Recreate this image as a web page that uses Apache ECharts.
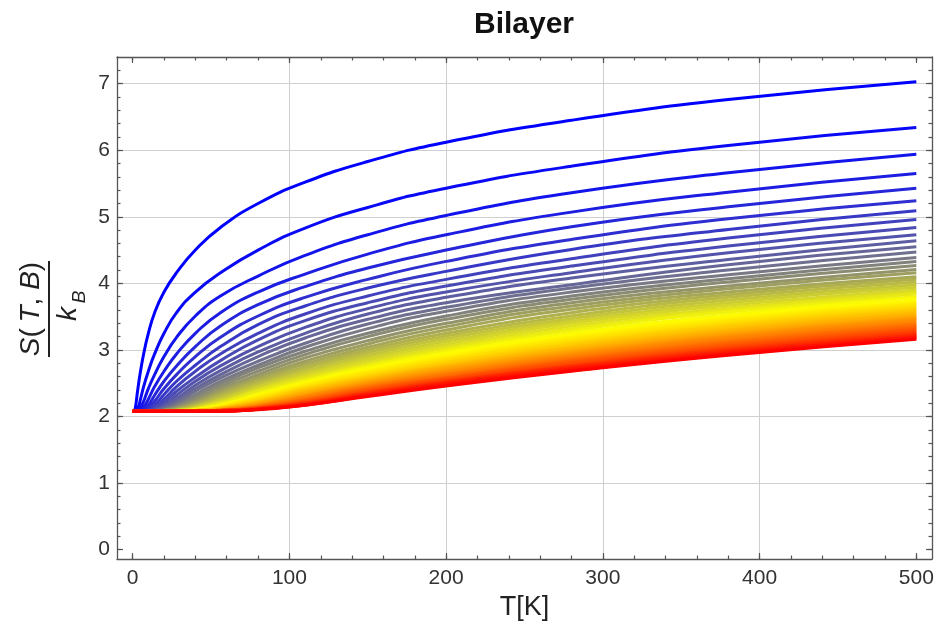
<!DOCTYPE html>
<html>
<head>
<meta charset="utf-8">
<title>Bilayer</title>
<script src="https://cdn.jsdelivr.net/npm/echarts@6/dist/echarts.min.js"></script>
<style>
  html, body { margin: 0; padding: 0; background: #fff; }
  #chart { width: 939px; height: 632px; }
</style>
</head>
<body>
<div id="chart"></div>
<script>
// temperatures (K) where every curve is sampled
var tempK = [0, 1, 1.5, 2, 3, 4, 5, 7, 10, 14, 20, 28, 40, 56, 80, 110, 150, 200, 280, 380, 500];

// S(T,B)/k_B, one row per field value, weakest field (blue) first, strongest (red) last
var entropyCurves = [
  [2.08,2.08,2.11,2.17,2.36,2.53,2.68,2.94,3.25,3.56,3.87,4.16,4.50,4.84,5.20,5.52,5.83,6.12,6.45,6.76,7.03],
  [2.08,2.08,2.08,2.08,2.11,2.17,2.26,2.45,2.68,2.94,3.25,3.56,3.87,4.16,4.50,4.83,5.14,5.43,5.76,6.07,6.34],
  [2.08,2.08,2.08,2.08,2.08,2.10,2.13,2.23,2.42,2.63,2.90,3.19,3.51,3.81,4.11,4.42,4.73,5.02,5.36,5.66,5.94],
  [2.08,2.08,2.08,2.08,2.08,2.08,2.09,2.14,2.26,2.45,2.68,2.94,3.25,3.56,3.87,4.14,4.44,4.73,5.07,5.37,5.65],
  [2.08,2.08,2.08,2.08,2.08,2.08,2.08,2.10,2.17,2.32,2.53,2.76,3.05,3.36,3.68,3.95,4.23,4.50,4.85,5.15,5.43],
  [2.08,2.08,2.08,2.08,2.08,2.08,2.08,2.09,2.13,2.23,2.42,2.63,2.90,3.19,3.51,3.79,4.06,4.33,4.66,4.97,5.24],
  [2.08,2.08,2.08,2.08,2.08,2.08,2.08,2.08,2.10,2.17,2.33,2.53,2.77,3.05,3.38,3.66,3.93,4.18,4.51,4.81,5.09],
  [2.08,2.08,2.08,2.08,2.08,2.08,2.08,2.08,2.09,2.14,2.26,2.45,2.68,2.94,3.25,3.54,3.81,4.06,4.37,4.68,4.96],
  [2.08,2.08,2.08,2.08,2.08,2.08,2.08,2.08,2.09,2.12,2.21,2.38,2.59,2.84,3.15,3.44,3.71,3.96,4.26,4.56,4.84],
  [2.08,2.08,2.08,2.08,2.08,2.08,2.08,2.08,2.08,2.10,2.17,2.32,2.53,2.76,3.05,3.34,3.62,3.87,4.16,4.46,4.73],
  [2.08,2.08,2.08,2.08,2.08,2.08,2.08,2.08,2.08,2.09,2.15,2.27,2.47,2.69,2.97,3.25,3.54,3.79,4.08,4.36,4.64],
  [2.08,2.08,2.08,2.08,2.08,2.08,2.08,2.08,2.08,2.09,2.13,2.23,2.42,2.63,2.90,3.18,3.46,3.71,3.98,4.28,4.55],
  [2.08,2.08,2.08,2.08,2.08,2.08,2.08,2.08,2.08,2.08,2.11,2.20,2.38,2.58,2.83,3.10,3.39,3.64,3.93,4.20,4.47],
  [2.08,2.08,2.08,2.08,2.08,2.08,2.08,2.08,2.08,2.08,2.10,2.17,2.33,2.53,2.77,3.04,3.32,3.58,3.87,4.13,4.39],
  [2.08,2.08,2.08,2.08,2.08,2.08,2.08,2.08,2.08,2.08,2.10,2.15,2.30,2.49,2.73,2.98,3.25,3.51,3.81,4.07,4.33],
  [2.08,2.08,2.08,2.08,2.08,2.08,2.08,2.08,2.08,2.08,2.09,2.14,2.26,2.45,2.68,2.93,3.20,3.46,3.76,4.02,4.27],
  [2.08,2.08,2.08,2.08,2.08,2.08,2.08,2.08,2.08,2.08,2.09,2.12,2.23,2.41,2.63,2.88,3.14,3.40,3.71,3.96,4.21],
  [2.08,2.08,2.08,2.08,2.08,2.08,2.08,2.08,2.08,2.08,2.09,2.12,2.21,2.38,2.59,2.83,3.09,3.35,3.66,3.92,4.16],
  [2.08,2.08,2.08,2.08,2.08,2.08,2.08,2.08,2.08,2.08,2.08,2.11,2.19,2.35,2.56,2.79,3.04,3.30,3.61,3.87,4.10],
  [2.08,2.08,2.08,2.08,2.08,2.08,2.08,2.08,2.08,2.08,2.08,2.10,2.17,2.32,2.53,2.75,3.00,3.25,3.56,3.83,4.06],
  [2.08,2.08,2.08,2.08,2.08,2.08,2.08,2.08,2.08,2.08,2.08,2.10,2.16,2.30,2.50,2.72,2.96,3.21,3.51,3.79,4.02],
  [2.08,2.08,2.08,2.08,2.08,2.08,2.08,2.08,2.08,2.08,2.08,2.09,2.15,2.27,2.47,2.68,2.92,3.17,3.47,3.75,3.98],
  [2.08,2.08,2.08,2.08,2.08,2.08,2.08,2.08,2.08,2.08,2.08,2.09,2.13,2.25,2.45,2.65,2.88,3.13,3.43,3.71,3.94],
  [2.08,2.08,2.08,2.08,2.08,2.08,2.08,2.08,2.08,2.08,2.08,2.09,2.13,2.23,2.42,2.62,2.85,3.09,3.40,3.67,3.90],
  [2.08,2.08,2.08,2.08,2.08,2.08,2.08,2.08,2.08,2.08,2.08,2.09,2.12,2.21,2.40,2.59,2.81,3.05,3.36,3.63,3.87],
  [2.08,2.08,2.08,2.08,2.08,2.08,2.08,2.08,2.08,2.08,2.08,2.08,2.11,2.20,2.38,2.56,2.78,3.02,3.32,3.60,3.84],
  [2.08,2.08,2.08,2.08,2.08,2.08,2.08,2.08,2.08,2.08,2.08,2.08,2.11,2.18,2.35,2.54,2.76,2.99,3.29,3.57,3.80],
  [2.08,2.08,2.08,2.08,2.08,2.08,2.08,2.08,2.08,2.08,2.08,2.08,2.10,2.17,2.33,2.52,2.73,2.96,3.25,3.53,3.78],
  [2.08,2.08,2.08,2.08,2.08,2.08,2.08,2.08,2.08,2.08,2.08,2.08,2.10,2.16,2.31,2.50,2.71,2.93,3.22,3.50,3.74],
  [2.08,2.08,2.08,2.08,2.08,2.08,2.08,2.08,2.08,2.08,2.08,2.08,2.10,2.15,2.30,2.48,2.68,2.90,3.19,3.47,3.71],
  [2.08,2.08,2.08,2.08,2.08,2.08,2.08,2.08,2.08,2.08,2.08,2.08,2.09,2.14,2.28,2.46,2.66,2.87,3.16,3.44,3.69],
  [2.08,2.08,2.08,2.08,2.08,2.08,2.08,2.08,2.08,2.08,2.08,2.08,2.09,2.14,2.26,2.44,2.63,2.85,3.13,3.41,3.66],
  [2.08,2.08,2.08,2.08,2.08,2.08,2.08,2.08,2.08,2.08,2.08,2.08,2.09,2.13,2.25,2.42,2.61,2.82,3.10,3.38,3.63],
  [2.08,2.08,2.08,2.08,2.08,2.08,2.08,2.08,2.08,2.08,2.08,2.08,2.09,2.12,2.23,2.41,2.59,2.80,3.08,3.36,3.60],
  [2.08,2.08,2.08,2.08,2.08,2.08,2.08,2.08,2.08,2.08,2.08,2.08,2.09,2.12,2.22,2.39,2.57,2.77,3.05,3.33,3.58],
  [2.08,2.08,2.08,2.08,2.08,2.08,2.08,2.08,2.08,2.08,2.08,2.08,2.09,2.12,2.21,2.37,2.56,2.76,3.03,3.30,3.55],
  [2.08,2.08,2.08,2.08,2.08,2.08,2.08,2.08,2.08,2.08,2.08,2.08,2.08,2.11,2.20,2.36,2.54,2.74,3.00,3.28,3.53],
  [2.08,2.08,2.08,2.08,2.08,2.08,2.08,2.08,2.08,2.08,2.08,2.08,2.08,2.11,2.19,2.34,2.52,2.72,2.98,3.25,3.50],
  [2.08,2.08,2.08,2.08,2.08,2.08,2.08,2.08,2.08,2.08,2.08,2.08,2.08,2.10,2.18,2.32,2.51,2.70,2.96,3.23,3.48],
  [2.08,2.08,2.08,2.08,2.08,2.08,2.08,2.08,2.08,2.08,2.08,2.08,2.08,2.10,2.17,2.31,2.49,2.68,2.94,3.21,3.46],
  [2.08,2.08,2.08,2.08,2.08,2.08,2.08,2.08,2.08,2.08,2.08,2.08,2.08,2.10,2.16,2.30,2.48,2.66,2.92,3.19,3.44],
  [2.08,2.08,2.08,2.08,2.08,2.08,2.08,2.08,2.08,2.08,2.08,2.08,2.08,2.10,2.16,2.29,2.46,2.64,2.90,3.17,3.41],
  [2.08,2.08,2.08,2.08,2.08,2.08,2.08,2.08,2.08,2.08,2.08,2.08,2.08,2.09,2.15,2.27,2.45,2.63,2.88,3.14,3.39],
  [2.08,2.08,2.08,2.08,2.08,2.08,2.08,2.08,2.08,2.08,2.08,2.08,2.08,2.09,2.15,2.26,2.44,2.61,2.86,3.12,3.37],
  [2.08,2.08,2.08,2.08,2.08,2.08,2.08,2.08,2.08,2.08,2.08,2.08,2.08,2.09,2.14,2.25,2.42,2.59,2.84,3.10,3.35],
  [2.08,2.08,2.08,2.08,2.08,2.08,2.08,2.08,2.08,2.08,2.08,2.08,2.08,2.09,2.13,2.24,2.41,2.58,2.83,3.08,3.33],
  [2.08,2.08,2.08,2.08,2.08,2.08,2.08,2.08,2.08,2.08,2.08,2.08,2.08,2.09,2.13,2.23,2.40,2.57,2.81,3.06,3.31],
  [2.08,2.08,2.08,2.08,2.08,2.08,2.08,2.08,2.08,2.08,2.08,2.08,2.08,2.09,2.13,2.22,2.38,2.56,2.79,3.04,3.29],
  [2.08,2.08,2.08,2.08,2.08,2.08,2.08,2.08,2.08,2.08,2.08,2.08,2.08,2.09,2.12,2.21,2.37,2.54,2.77,3.02,3.27],
  [2.08,2.08,2.08,2.08,2.08,2.08,2.08,2.08,2.08,2.08,2.08,2.08,2.08,2.09,2.12,2.20,2.36,2.53,2.76,3.01,3.25],
  [2.08,2.08,2.08,2.08,2.08,2.08,2.08,2.08,2.08,2.08,2.08,2.08,2.08,2.09,2.12,2.20,2.35,2.52,2.75,2.99,3.23],
  [2.08,2.08,2.08,2.08,2.08,2.08,2.08,2.08,2.08,2.08,2.08,2.08,2.08,2.08,2.11,2.19,2.34,2.51,2.74,2.98,3.22],
  [2.08,2.08,2.08,2.08,2.08,2.08,2.08,2.08,2.08,2.08,2.08,2.08,2.08,2.08,2.11,2.18,2.33,2.50,2.72,2.96,3.20],
  [2.08,2.08,2.08,2.08,2.08,2.08,2.08,2.08,2.08,2.08,2.08,2.08,2.08,2.08,2.11,2.18,2.32,2.49,2.71,2.95,3.19],
  [2.08,2.08,2.08,2.08,2.08,2.08,2.08,2.08,2.08,2.08,2.08,2.08,2.08,2.08,2.11,2.17,2.31,2.47,2.69,2.93,3.17],
  [2.08,2.08,2.08,2.08,2.08,2.08,2.08,2.08,2.08,2.08,2.08,2.08,2.08,2.08,2.10,2.17,2.30,2.46,2.68,2.92,3.16]
];

// ticks
var xMajor = [0, 100, 200, 300, 400, 500];
var xMinor = [0, 20, 40, 60, 80, 100, 120, 140, 160, 180, 200, 220, 240, 260, 280, 300, 320, 340, 360, 380, 400, 420, 440, 460, 480, 500];
var xGrid = [100, 200, 300, 400];
var yMajor = [0, 1, 2, 3, 4, 5, 6, 7];
var yMinor = [0, 0.2, 0.4, 0.6, 0.8, 1, 1.2, 1.4, 1.6, 1.8, 2, 2.2, 2.4, 2.6, 2.8, 3, 3.2, 3.4, 3.6, 3.8, 4, 4.2, 4.4, 4.6, 4.8, 5, 5.2, 5.4, 5.6, 5.8, 6, 6.2, 6.4, 6.6, 6.8, 7, 7.2];
var yGrid = [1, 2, 3, 4, 5, 6, 7];

var xRange = [-10, 510];
var yRange = [-0.14, 7.4];

var frameColor = '#555';
var fontFamily = '"Liberation Sans", Arial, sans-serif';

// Blue -> Yellow -> Red blend along the family
function curveColor(t) {
	var r, g, b;
	if (t <= 0.5) {
		var s = t * 2;
		r = s; g = s; b = 1 - s;
	} else {
		var s2 = (t - 0.5) * 2;
		r = 1; g = 1 - s2; b = 0;
	}
	return 'rgb(' + Math.round(r * 255) + ',' + Math.round(g * 255) + ',' + Math.round(b * 255) + ')';
}

function frameAxis(range, position, ticks, len, withLine, labels) {
	return {
		type: 'value',
		min: range[0],
		max: range[1],
		position: position,
		silent: true,
		axisLine: { show: withLine, onZero: false, lineStyle: { color: frameColor, width: 1.3 } },
		axisTick: { show: true, inside: true, length: len, customValues: ticks, lineStyle: { color: frameColor, width: 1.2 } },
		axisLabel: labels ? {
			show: true, customValues: labels, margin: 9,
			fontFamily: fontFamily, fontSize: 21, color: '#333'
		} : { show: false },
		splitLine: { show: false }
	};
}

function gridAxis(range, position, lines) {
	return {
		type: 'value',
		min: range[0],
		max: range[1],
		position: position,
		silent: true,
		axisLine: { show: false, onZero: false },
		axisTick: { show: false, customValues: lines },
		axisLabel: { show: false },
		splitLine: { show: true, lineStyle: { color: '#cfcfcf', width: 1 } }
	};
}

var xAxes = [
	frameAxis(xRange, 'bottom', xMajor, 6, true, xMajor),
	frameAxis(xRange, 'bottom', xMinor, 3.5, false, null),
	frameAxis(xRange, 'top', xMajor, 6, true, null),
	frameAxis(xRange, 'top', xMinor, 3.5, false, null),
	gridAxis(xRange, 'bottom', xGrid)
];
xAxes[0].name = 'T[K]';
xAxes[0].nameLocation = 'middle';
xAxes[0].nameGap = 33;
xAxes[0].nameTextStyle = { fontFamily: fontFamily, fontSize: 27, color: '#222' };

var yAxes = [
	frameAxis(yRange, 'left', yMajor, 6, true, yMajor),
	frameAxis(yRange, 'left', yMinor, 3.5, false, null),
	frameAxis(yRange, 'right', yMajor, 6, true, null),
	frameAxis(yRange, 'right', yMinor, 3.5, false, null),
	gridAxis(yRange, 'left', yGrid)
];
yAxes[0].axisLabel.margin = 7;

var series = entropyCurves.map(function (vals, i) {
	return {
		type: 'line',
		xAxisIndex: 0,
		yAxisIndex: 0,
		data: tempK.map(function (t, k) { return [t, vals[k]]; }),
		showSymbol: false,
		smooth: 0.5,
		silent: true,
		lineStyle: { width: 3, color: curveColor(i / (entropyCurves.length - 1)) }
	};
});

var myChart = echarts.init(document.getElementById('chart'));
myChart.setOption({
	animation: false,
	backgroundColor: '#fff',
	grid: { left: 117, right: 7, top: 57, bottom: 73, containLabel: false },
	xAxis: xAxes,
	yAxis: yAxes,
	series: series,
	graphic: [
		{
			type: 'text', x: 524, y: 25, silent: true,
			style: { text: 'Bilayer', font: 'bold 30px ' + fontFamily, fill: '#111', textAlign: 'center', textVerticalAlign: 'middle' }
		},
		{
			// y label: S(T, B) / k_B, read bottom to top
			type: 'group', x: 49, y: 309, rotation: Math.PI / 2, silent: true,
			children: [
				{ type: 'line', shape: { x1: -48, y1: 0, x2: 48, y2: 0 }, style: { stroke: '#222', lineWidth: 2 } },
				{
					type: 'text', x: 0, y: -4,
					style: {
						text: '{i|S}(\u2009{i|T}, {i|B})',
						fontFamily: fontFamily, fontSize: 28, fill: '#222',
						textAlign: 'center', textVerticalAlign: 'bottom',
						rich: { i: { fontFamily: fontFamily, fontSize: 28, fontStyle: 'italic', color: '#222' } }
					}
				},
				{ type: 'text', x: -5, y: 5, style: { text: 'k', font: 'italic 28px ' + fontFamily, fill: '#222', textAlign: 'center', textVerticalAlign: 'top' } },
				{ type: 'text', x: 12, y: 21, style: { text: 'B', font: 'italic 19px ' + fontFamily, fill: '#222', textAlign: 'center', textVerticalAlign: 'top' } }
			]
		}
	]
});
</script>
</body>
</html>
